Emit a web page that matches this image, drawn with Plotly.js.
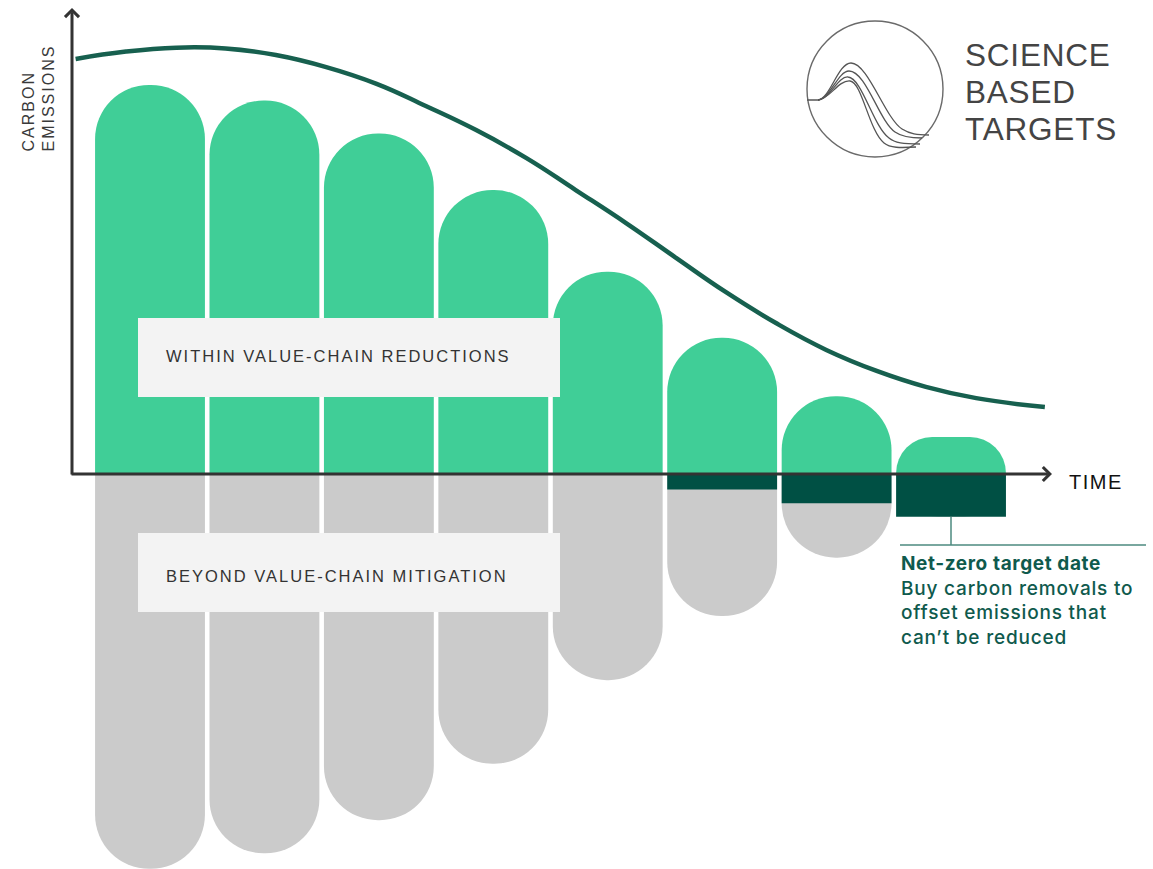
<!DOCTYPE html>
<html>
<head>
<meta charset="utf-8">
<script src="https://cdn.plot.ly/plotly-3.0.1.min.js"></script>
<style>
  html, body { margin:0; padding:0; background:#ffffff; }
  #chart { width:1153px; height:869px; }
</style>
</head>
<body>
<div id="chart"></div>
<script>
// ---- data (100 = first period's value-chain emissions) ----
const periods = [1, 2, 3, 4, 5, 6, 7, 8];
const withinReductions = [100, 96, 87.5, 73, 52, 35, 20, 9.5];      // green, above axis
const beyondMitigation = [101.5, 97.5, 89, 74.5, 53, 32.5, 14, 0];   // grey, below the removals
const carbonRemovals   = [0, 0, 0, 0, 0, 4, 7.5, 11];                // dark green, just below axis
const pathwayX = [0.35, 0.79, 1.23, 1.66, 2.10, 2.54, 2.98, 3.41, 3.85, 4.29,
                  4.72, 5.16, 5.60, 6.03, 6.47, 6.91, 7.35, 7.78, 8.22, 8.82];
const pathwayY = [106.7, 108.6, 109.6, 109.4, 107.7, 104.6, 100.3, 94.6, 88.4, 81.2,
                  73.0, 64.5, 55.5, 46.8, 38.8, 31.9, 26.5, 22.4, 19.5, 17.2];
const yAxisLines = ['CARBON', 'EMISSIONS'];
const xAxisLabel = 'TIME';
const withinLabel = 'WITHIN VALUE-CHAIN REDUCTIONS';
const beyondLabel = 'BEYOND VALUE-CHAIN MITIGATION';
const netZeroTitle = 'Net-zero target date';
const netZeroLines = ['Buy carbon removals to', 'offset emissions that', 'can\u2019t be reduced'];
const logoLines = ['SCIENCE', 'BASED', 'TARGETS'];

// ---- helpers: figure pixels -> paper coordinates (margins are zero) ----
const W = 1153, H = 869;
const px = x => x / W;
const py = y => 1 - y / H;
const pathPx = s => s.replace(/(-?\d+\.?\d*),(-?\d+\.?\d*)/g, (m, a, b) => px(+a).toFixed(5) + ',' + py(+b).toFixed(5));
const spaced = (t, ls) => '<span style="letter-spacing:' + ls + 'px">' + t + '</span>';

const GREEN = '#40ce97', GREY = '#cbcbcb', DARK = '#005044', LINE = '#17604f', AXIS = '#333333', TEAL = '#0f5a4d';

// grey bars reach the bottom of the whole below-axis stack; removals are drawn over their top part
const belowTotal = periods.map((p, i) => -(carbonRemovals[i] + beyondMitigation[i]));

const traces = [
  { type: 'bar', x: periods, y: withinReductions,
    marker: { color: GREEN, cornerradius: '50%', line: { width: 0 } }, hoverinfo: 'skip' },
  { type: 'bar', x: periods, y: belowTotal,
    marker: { color: GREY, cornerradius: '50%', line: { width: 0 } }, hoverinfo: 'skip' },
  { type: 'bar', x: periods, y: carbonRemovals.map(v => -v),
    marker: { color: DARK, cornerradius: 0, line: { width: 0 } }, hoverinfo: 'skip' },
  { type: 'scatter', mode: 'lines', x: pathwayX, y: pathwayY,
    line: { color: LINE, width: 4.5, shape: 'spline', smoothing: 1.3 }, hoverinfo: 'skip' }
];

const logoCurves = [
  'M807,100 L818,100 C830,99 838,63 851,63 C868,63 885,118 902,129 C910,134 917,135 929,135',
  'M818,100 C830,99 838,71 849,71 C866,71 879,121 895,132 C902,137 910,138 922,138',
  'M818,100 C830,99 838,76 848,77 C862,78 873,126 889,138 C895,143 903,144 920,144',
  'M818,100 C830,99 838,80 850,81 C862,82 869,131 884,143 C890,148 900,148 916,147'
];

const shapes = [
  { type: 'rect', xref: 'paper', yref: 'paper', x0: px(138), x1: px(560), y0: py(318), y1: py(397),
    fillcolor: '#f3f3f3', line: { width: 0 }, layer: 'above' },
  { type: 'rect', xref: 'paper', yref: 'paper', x0: px(138), x1: px(560), y0: py(533), y1: py(612),
    fillcolor: '#f3f3f3', line: { width: 0 }, layer: 'above' },
  { type: 'line', xref: 'paper', yref: 'paper', x0: px(951), x1: px(951), y0: py(517), y1: py(545),
    line: { color: '#4d8a7f', width: 1.5 }, layer: 'above' },
  { type: 'line', xref: 'paper', yref: 'paper', x0: px(900), x1: px(1146), y0: py(545), y1: py(545),
    line: { color: '#4d8a7f', width: 1.5 }, layer: 'above' },
  { type: 'circle', xref: 'paper', yref: 'paper', x0: px(807), x1: px(943), y0: py(157), y1: py(21),
    line: { color: '#6a6a6a', width: 1.4 }, layer: 'above' }
].concat(logoCurves.map(p => ({ type: 'path', xref: 'paper', yref: 'paper', path: pathPx(p),
    line: { color: '#555555', width: 1.3 }, layer: 'above' })));

const annotations = [
  { xref: 'paper', yref: 'paper', x: px(39), y: py(98.5), text: yAxisLines.map(t => spaced(t, 2)).join('<br>'),
    showarrow: false, textangle: -90, align: 'left', xanchor: 'center', yanchor: 'middle',
    font: { family: 'Liberation Sans, Arial, sans-serif', size: 16, color: '#3a3a3a' } },
  { xref: 'paper', yref: 'paper', x: px(164), y: py(356), text: spaced(withinLabel, 2), showarrow: false,
    xanchor: 'left', yanchor: 'middle',
    font: { family: 'Liberation Sans, Arial, sans-serif', size: 16.5, color: '#333333' } },
  { xref: 'paper', yref: 'paper', x: px(164), y: py(576), text: spaced(beyondLabel, 2), showarrow: false,
    xanchor: 'left', yanchor: 'middle',
    font: { family: 'Liberation Sans, Arial, sans-serif', size: 16.5, color: '#333333' } },
  { xref: 'paper', yref: 'paper', x: px(1067), y: py(482), text: spaced(xAxisLabel, 1.5), showarrow: false,
    xanchor: 'left', yanchor: 'middle',
    font: { family: 'Liberation Sans, Arial, sans-serif', size: 20, color: '#111111', weight: 500 } },
  { xref: 'paper', yref: 'paper', x: px(899), y: py(550),
    text: '<b>' + spaced(netZeroTitle, 0.6) + '</b><br>' + netZeroLines.map(t => spaced(t, 0.8)).join('<br>'),
    showarrow: false, xanchor: 'left', yanchor: 'top', align: 'left',
    font: { family: 'Inter, Liberation Sans, sans-serif', size: 19, color: TEAL, weight: 500 } }
].concat(logoLines.map((t, i) => ({
    xref: 'paper', yref: 'paper', x: px(963), y: py([55, 92, 129][i]), text: spaced(t, 0.8), showarrow: false,
    xanchor: 'left', yanchor: 'middle',
    font: { family: 'Liberation Sans, Arial, sans-serif', size: 31.5, color: '#444444', weight: 300 } })))
  .concat([
  { xref: 'paper', yref: 'paper', x: px(72), y: py(8), ax: 0, ay: 468, text: '', showarrow: true,
    arrowhead: 4, arrowsize: 0.9, arrowwidth: 3, arrowcolor: AXIS, standoff: 0, startstandoff: 0 },
  { xref: 'paper', yref: 'paper', x: px(1052), y: py(474), ax: -982, ay: 0, text: '', showarrow: true,
    arrowhead: 4, arrowsize: 0.9, arrowwidth: 3, arrowcolor: AXIS, standoff: 0, startstandoff: 0 }
]);

const layout = {
  width: W, height: H,
  margin: { l: 0, r: 0, t: 0, b: 0, pad: 0 },
  paper_bgcolor: '#ffffff', plot_bgcolor: '#ffffff',
  showlegend: false,
  barmode: 'overlay',
  bargap: 0.04,
  xaxis: { range: [-0.3108, 9.765], visible: false, fixedrange: true },
  yaxis: { range: [-101.54, 121.85], visible: false, fixedrange: true },
  shapes: shapes,
  annotations: annotations,
  font: { family: 'Liberation Sans, Arial, sans-serif' }
};

Plotly.newPlot('chart', traces, layout, { displayModeBar: false, staticPlot: true });
</script>
</body>
</html>
